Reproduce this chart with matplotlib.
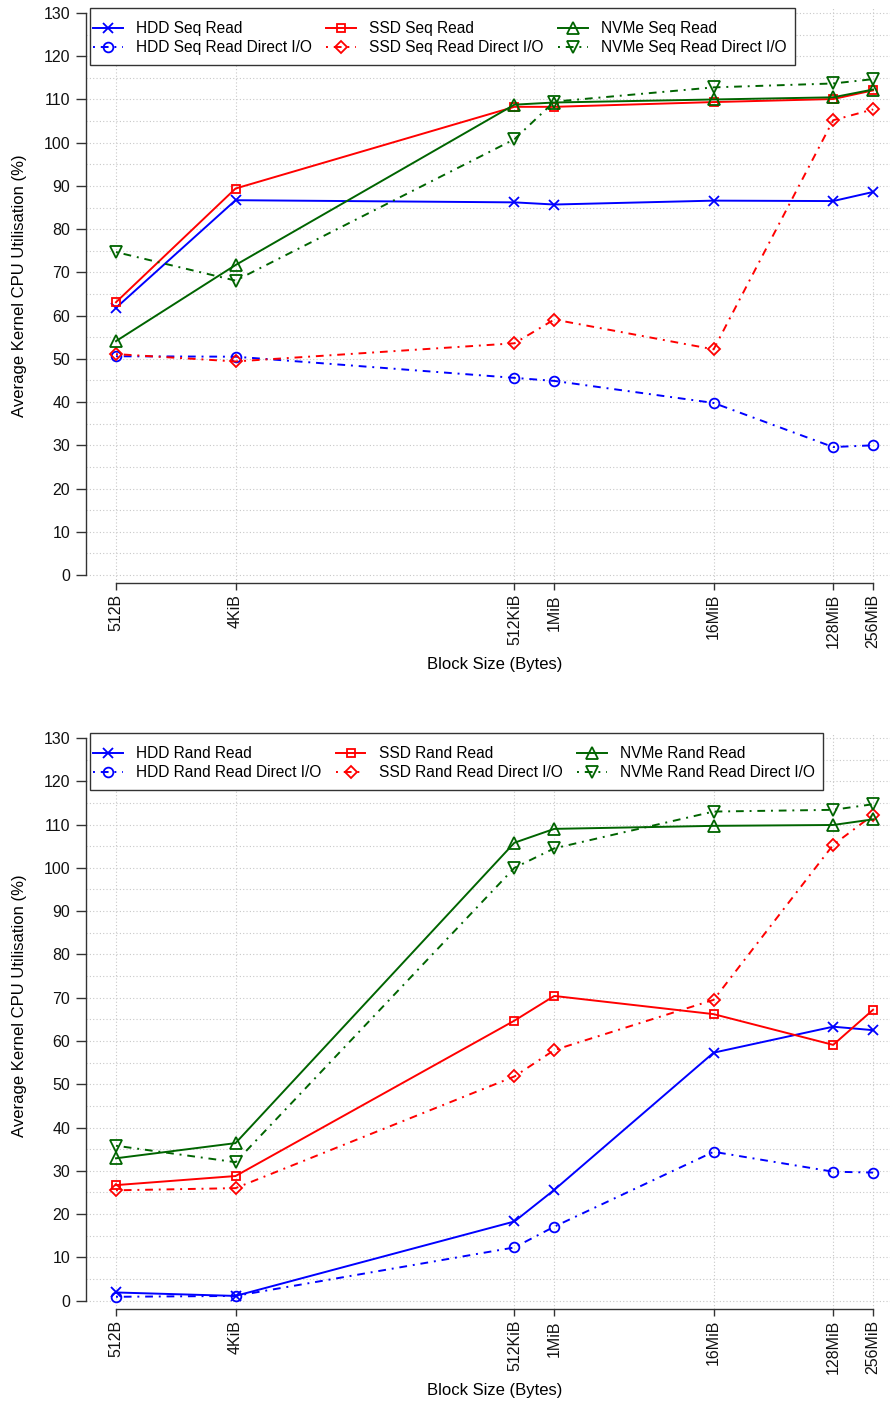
import numpy as np
import matplotlib
matplotlib.use("Agg")
import matplotlib.pyplot as plt
from matplotlib.patches import Rectangle

plt.rcParams['font.family'] = ['Liberation Sans', 'DejaVu Sans']

# block sizes in bytes (log2 axis)
block_sizes = [512, 4096, 524288, 1048576, 16777216, 134217728, 268435456]
block_labels = ['512B', '4KiB', '512KiB', '1MiB', '16MiB', '128MiB', '256MiB']

# sequential read, kernel CPU %
hdd_seq = [61.8, 86.7, 86.2, 85.7, 86.6, 86.5, 88.6]
hdd_seq_direct = [50.6, 50.5, 45.6, 44.9, 39.8, 29.6, 30.0]
ssd_seq = [63.1, 89.4, 108.3, 108.3, 109.4, 110.1, 112.1]
ssd_seq_direct = [51.1, 49.4, 53.6, 59.1, 52.2, 105.2, 107.7]
nvme_seq = [54.1, 71.7, 108.8, 109.3, 110.0, 110.5, 112.3]
nvme_seq_direct = [74.7, 68.1, 100.8, 109.5, 112.8, 113.7, 114.7]

# random read, kernel CPU %
hdd_rand = [1.9, 1.1, 18.3, 25.6, 57.3, 63.3, 62.5]
hdd_rand_direct = [0.9, 1.1, 12.3, 17.1, 34.4, 29.8, 29.6]
ssd_rand = [26.7, 28.8, 64.7, 70.4, 66.2, 59.1, 67.2]
ssd_rand_direct = [25.5, 26.0, 51.8, 57.9, 69.5, 105.3, 112.2]
nvme_rand = [32.9, 36.4, 105.8, 109.0, 109.7, 109.9, 111.2]
nvme_rand_direct = [35.8, 32.0, 100.0, 104.5, 113.0, 113.4, 114.7]

BLUE = '#0000FF'
RED = '#FF0000'
GREEN = '#006400'
DOTDASH = (0, (1, 3, 4, 3))
W, H = 890.0, 1405.0


def style_axes(ax, ylim):
    ax.set_xscale('log', base=2)
    ax.set_xlim(2 ** 8.247, 2 ** 28.753)
    ax.set_ylim(*ylim)
    for s in ['top', 'right']:
        ax.spines[s].set_visible(False)
    for s in ['left', 'bottom']:
        ax.spines[s].set_color('#333333')
        ax.spines[s].set_linewidth(1.0)
    ax.spines['left'].set_bounds(0, 130)
    ax.spines['bottom'].set_bounds(block_sizes[0], block_sizes[-1])
    ax.set_xticks(block_sizes)
    ax.set_xticklabels(block_labels, rotation=90, va='top', ha='center')
    ax.xaxis.set_minor_locator(matplotlib.ticker.NullLocator())
    ax.set_yticks(np.arange(0, 131, 10))
    ax.tick_params(axis='y', length=7.2, width=1.0, pad=4.3, labelsize=11.5,
                   color='#333333', labelcolor='#111111')
    ax.tick_params(axis='x', length=5.0, width=1.0, pad=3, labelsize=11.5,
                   color='#333333', labelcolor='#111111')
    for v in np.arange(0, 131, 5):
        ax.axhline(v, color='#c8c8c8', lw=0.8, ls=(0, (1, 2)), zorder=0)
    for b in block_sizes:
        ax.axvline(b, color='#c8c8c8', lw=0.8, ls=(0, (1, 2)), zorder=0)


def draw_panel(ax, series, labels):
    styles = [
        (BLUE, '-', 'x', 7.4),
        (BLUE, DOTDASH, 'o', 7.0),
        (RED, '-', 's', 6.3),
        (RED, DOTDASH, 'D', 5.8),
        (GREEN, '-', '^', 8.6),
        (GREEN, DOTDASH, 'v', 8.6),
    ]
    handles = []
    for vals, lab, (c, ls, m, ms) in zip(series, labels, styles):
        h, = ax.plot(block_sizes, vals, color=c, ls=ls, lw=1.4, marker=m,
                     ms=ms, mfc='none', mec=c, mew=1.3, label=lab,
                     clip_on=False)
        handles.append(h)
    return handles


fig = plt.figure(figsize=(W / 100, H / 100), dpi=100)

panels = [
    (8, 583, (-1.85, 131.16),
     [hdd_seq, hdd_seq_direct, ssd_seq, ssd_seq_direct, nvme_seq, nvme_seq_direct],
     ['HDD Seq Read', 'HDD Seq Read Direct I/O', 'SSD Seq Read',
      'SSD Seq Read Direct I/O', 'NVMe Seq Read', 'NVMe Seq Read Direct I/O'],
     286, 665),
    (733, 1309, (-1.92, 131.15),
     [hdd_rand, hdd_rand_direct, ssd_rand, ssd_rand_direct, nvme_rand, nvme_rand_direct],
     ['HDD Rand Read', 'HDD Rand Read Direct I/O', 'SSD Rand Read',
      'SSD Rand Read Direct I/O', 'NVMe Rand Read', 'NVMe Rand Read Direct I/O'],
     1006, 1390),
]

legends = []
for top, bottom, ylim, series, labels, ylab_y, xlab_y in panels:
    ax = fig.add_axes([86 / W, 1 - bottom / H, (903 - 86) / W, (bottom - top) / H])
    style_axes(ax, ylim)
    handles = draw_panel(ax, series, labels)
    leg = ax.legend(handles=handles, ncol=3, loc='upper left',
                    bbox_to_anchor=(93 / W, 1 - (top + 13) / H),
                    bbox_transform=fig.transFigure, fontsize=11.2,
                    frameon=False, borderpad=0, labelspacing=0.28,
                    handlelength=1.9, handletextpad=0.85, columnspacing=0.95,
                    borderaxespad=0)
    leg.set_zorder(10)
    legends.append((leg, top))
    fig.text(20 / W, 1 - ylab_y / H, 'Average Kernel CPU Utilisation (%)',
             rotation=90, ha='center', va='center', fontsize=12)
    fig.text(494.5 / W, 1 - xlab_y / H, 'Block Size (Bytes)',
             ha='center', va='center', fontsize=12)

# legend frame drawn as a plain box round the legend content
fig.canvas.draw()
renderer = fig.canvas.get_renderer()
for leg, top in legends:
    bb = leg.get_window_extent(renderer)
    x0, x1 = 90, bb.x1 + 8
    y_top = H - top
    y_bot = bb.y0 - 10
    box = Rectangle((x0 / W, y_bot / H), (x1 - x0) / W, (y_top - y_bot) / H,
                    transform=fig.transFigure, facecolor='white',
                    edgecolor='#333333', lw=1.0, zorder=9)
    leg.axes.add_artist(box)
    box.set_clip_on(False)

fig.savefig('out.png', dpi=100)
